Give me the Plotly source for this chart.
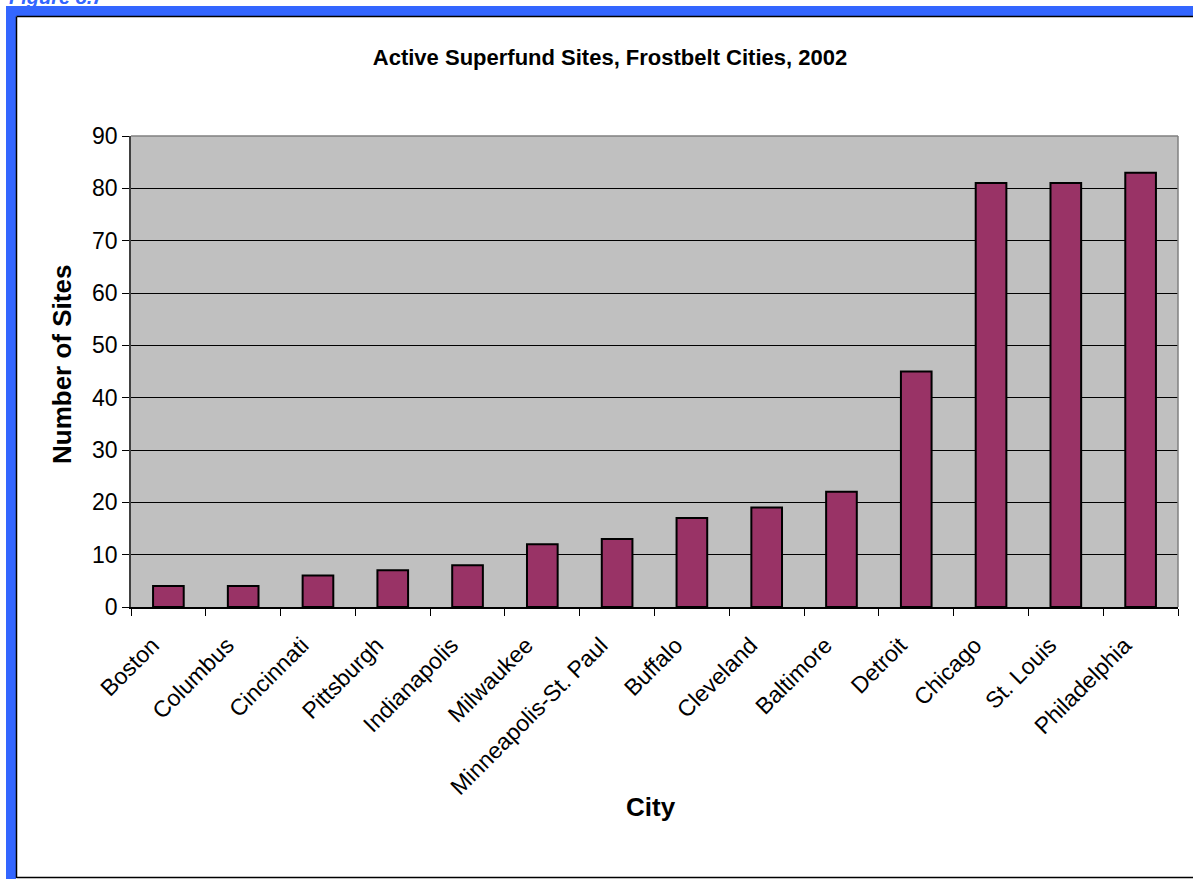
import plotly.graph_objects as go

cities = ["Boston", "Columbus", "Cincinnati", "Pittsburgh", "Indianapolis", "Milwaukee",
          "Minneapolis-St. Paul", "Buffalo", "Cleveland", "Baltimore", "Detroit",
          "Chicago", "St. Louis", "Philadelphia"]
sites = [4, 4, 6, 7, 8, 12, 13, 17, 19, 22, 45, 81, 81, 83]
y_ticks = [0, 10, 20, 30, 40, 50, 60, 70, 80, 90]

W, H = 1193, 879
L, R, T, B = 131, 15, 136, 272
pw, ph = W - L - R, H - T - B

def px(x):
    return (x - L) / pw

def py(y):
    return (H - B - y) / ph

fig = go.Figure(go.Bar(
    x=cities, y=sites,
    marker=dict(color="#993366", line=dict(color="black", width=2)),
))

blue = "#3366FF"
shapes = [
    dict(type="rect", xref="paper", yref="paper", x0=px(6), x1=px(16), y0=py(879), y1=py(6),
         fillcolor=blue, line=dict(width=0)),
    dict(type="rect", xref="paper", yref="paper", x0=px(6), x1=px(1193), y0=py(16), y1=py(6),
         fillcolor=blue, line=dict(width=0)),
    dict(type="line", xref="paper", yref="paper", x0=px(16.5), x1=px(16.5), y0=py(878), y1=py(16.5),
         line=dict(color="black", width=1.5)),
    dict(type="line", xref="paper", yref="paper", x0=px(16.5), x1=px(1193), y0=py(16.5), y1=py(16.5),
         line=dict(color="black", width=1.5)),
    dict(type="line", xref="paper", yref="paper", x0=px(16.5), x1=px(1193), y0=py(877.5), y1=py(877.5),
         line=dict(color="black", width=1.5)),
    dict(type="line", xref="paper", yref="paper", x0=0, x1=1, y0=1, y1=1,
         line=dict(color="#808080", width=1.5)),
    dict(type="line", xref="paper", yref="paper", x0=1, x1=1, y0=0, y1=1,
         line=dict(color="#808080", width=1.5)),
]

fig.update_layout(
    width=W, height=H,
    margin=dict(l=L, r=R, t=T, b=B),
    paper_bgcolor="white",
    plot_bgcolor="#C0C0C0",
    font=dict(family="Liberation Sans, Arial, sans-serif", color="black"),
    bargap=0.59,
    showlegend=False,
    shapes=shapes,
    title=dict(text="<b>Active Superfund Sites, Frostbelt Cities, 2002</b>",
               x=610 / W, xanchor="center", y=1 - 57 / H, yanchor="middle",
               font=dict(size=22)),
    annotations=[
        dict(text="<b><i>Figure 8.7</i></b>", xref="paper", yref="paper",
             x=px(7), xanchor="left", y=py(10), yanchor="bottom", showarrow=False,
             font=dict(size=20, color=blue)),
        dict(text="<b>City</b>", xref="paper", yref="paper",
             x=px(651), xanchor="center", y=py(807), yanchor="middle", showarrow=False,
             font=dict(size=26)),
        dict(text="<b>Number of Sites</b>", xref="paper", yref="paper",
             x=px(62), xanchor="center", y=py(365), yanchor="middle", showarrow=False,
             textangle=-90, font=dict(size=26)),
    ],
)

fig.update_xaxes(
    tickangle=-45, tickfont=dict(size=23),
    showline=True, linecolor="black", linewidth=1.5,
    ticks="outside", ticklen=7, tickcolor="black", tickson="boundaries",
    ticklabelshift=-16, ticklabelstandoff=14,
    showgrid=False,
)
fig.update_yaxes(
    range=[0, 90], tickvals=y_ticks, tickfont=dict(size=23),
    showline=True, linecolor="#404040", linewidth=1.5,
    ticks="outside", ticklen=7, tickcolor="black",
    showgrid=True, gridcolor="black", gridwidth=1, zeroline=False,
)

fig.write_html("out.html")
